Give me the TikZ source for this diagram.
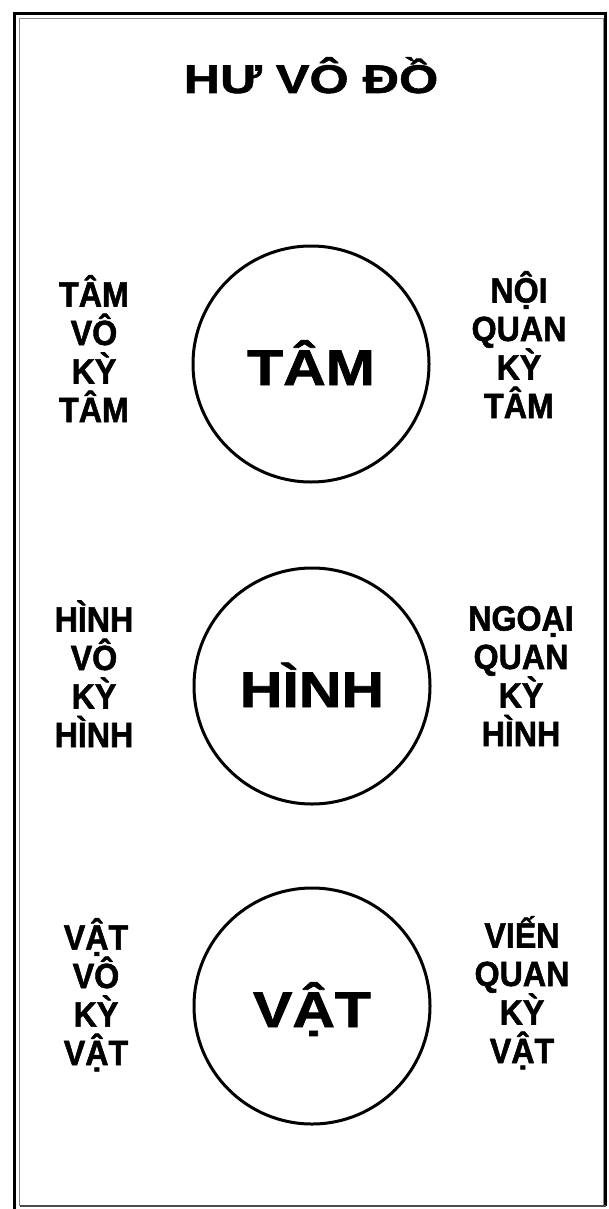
\documentclass[tikz,border=0pt]{standalone}
\usepackage{fontspec}
\setmainfont{Liberation Sans}
\newfontfamily\titlefont{Liberation Sans}[FakeStretch=1.26, FakeBold=1.4]
\newfontfamily\ringfont{Liberation Sans}[FakeStretch=1.18, FakeBold=1.5]
\newfontfamily\sidefont{Liberation Sans}[FakeStretch=0.92, FakeBold=1.5]
\usepackage{tikz}
\usetikzlibrary{positioning}
\definecolor{framegray}{HTML}{8A8A8A}

\begin{document}
\begin{tikzpicture}[x=1pt, y=-1pt,
    ring/.style={circle, draw, line width=3pt, minimum size=236pt, inner sep=0pt,
                 text height=42pt, text depth=0pt,
                 font=\ringfont\bfseries\fontsize{50}{50}\selectfont},
    side/.style={align=center, inner sep=0pt, anchor=base,
                 font=\sidefont\bfseries\fontsize{35}{38.5}\selectfont},
    ttl/.style={inner sep=0pt, anchor=base,
                font=\titlefont\bfseries\fontsize{40}{40}\selectfont},
]
    \useasboundingbox (0,0) rectangle (608,1209);

    % Frame
    \draw[framegray, line width=1.5pt] (19.7,18.3) rectangle (603.5,1205.5);
    \draw[line width=3.3pt] (14.3,1212) -- (14.3,13.7) -- (605.3,13.7) -- (605.3,1206);
    \draw[black!70, line width=2pt] (19.7,1205.5) -- (606,1205.5);

    % Title
    \node[ttl] (title) at (311,93) {HƯ VÔ ĐỒ};

    % Circles
    \node[ring] (tam) at (311,364) {TÂM};
    \node[ring] (hinh) at (312,686) {HÌNH};
    \node[ring] (vat) at (312,1006) {VẬT};

    % Left column (anchored at last line)
    \node[side] (tamL) at (94,422) {TÂM\\VÔ\\KỲ\\TÂM};
    \node[side] (hinhL) at (94,747) {HÌNH\\VÔ\\KỲ\\HÌNH};
    \node[side] (vatL) at (96,1065) {VẬT\\VÔ\\KỲ\\VẬT};

    % Right column
    \node[side] (tamR) at (519,418) {NỘI\\QUAN\\KỲ\\TÂM};
    \node[side] (hinhR) at (521,746) {NGOẠI\\QUAN\\KỲ\\HÌNH};
    \node[side] (vatR) at (522,1063) {VIẾN\\QUAN\\KỲ\\VẬT};
\end{tikzpicture}
\end{document}
